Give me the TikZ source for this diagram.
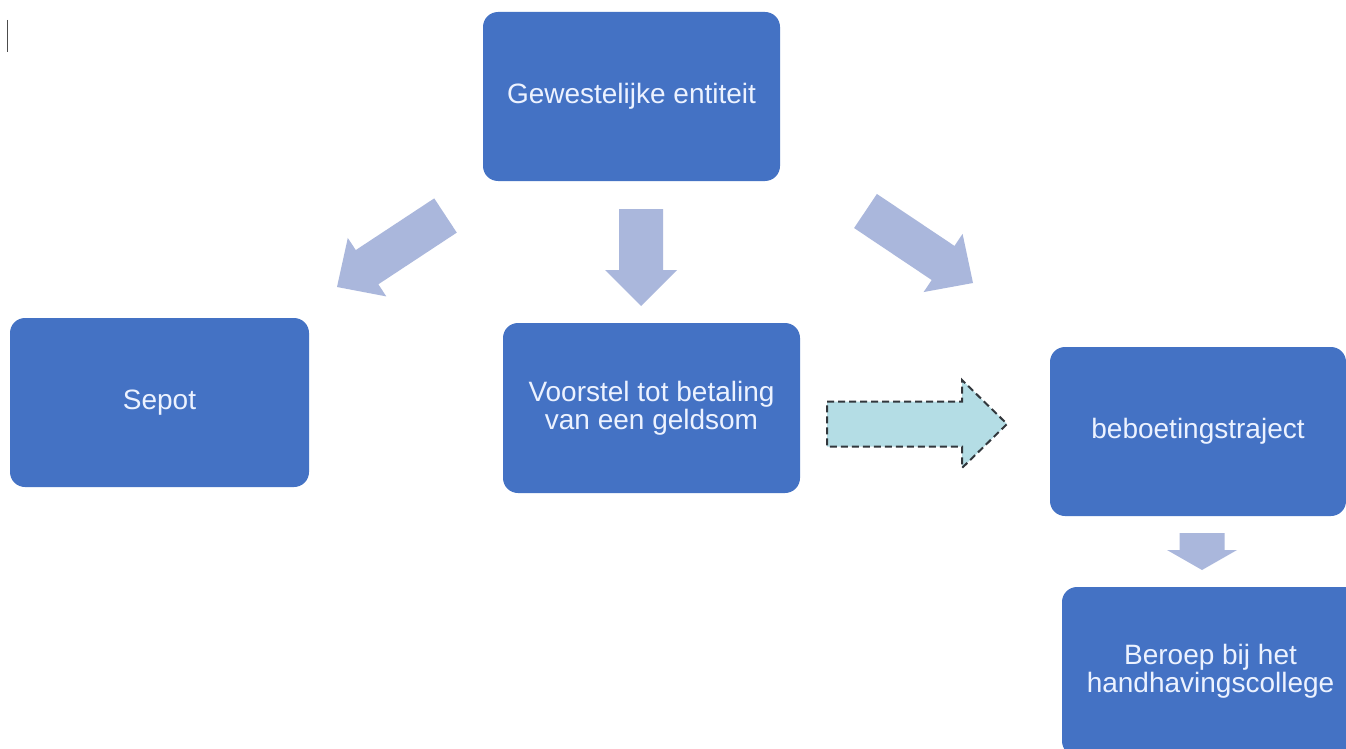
\documentclass[tikz,border=0pt]{standalone}
\usepackage{fontspec}
\setmainfont{Liberation Sans}
\usetikzlibrary{calc}
\definecolor{boxblue}{RGB}{68,114,196}
\definecolor{arrowblue}{RGB}{170,183,220}
\definecolor{dashfill}{RGB}{180,221,229}
\definecolor{txtcol}{RGB}{236,242,255}
\definecolor{dashline}{RGB}{50,55,60}
% #1 style, #2 tail, #3 tip, #4 shaft half width, #5 head half width, #6 head length
\newcommand\blockarrow[6]{%
  \coordinate (ba-h) at ($(#3)!#6!(#2)$);
  \path[#1] ($(#2)!#4!90:(#3)$) -- ($(ba-h)!#4!-90:(#2)$) -- ($(ba-h)!#5!-90:(#2)$)
    -- (#3) -- ($(ba-h)!#5!90:(#2)$) -- ($(ba-h)!#4!90:(#2)$) -- ($(#2)!#4!-90:(#3)$) -- cycle;
}
\tikzset{
  box/.style={fill=boxblue, draw=none, rounded corners=15pt, minimum width=297pt,
    minimum height=169pt, inner sep=0pt, text=txtcol, align=center,
    font=\fontsize{28}{28}\selectfont},
  flowarrow/.style={fill=arrowblue},
  dasharrow/.style={fill=dashfill, draw=dashline, line width=2pt, dash pattern=on 7pt off 4pt}
}
\begin{document}
\begin{tikzpicture}[x=1pt,y=-1pt]
\clip (0,0) rectangle (1346,749);
\fill[white] (0,0) rectangle (1346,749);
\draw[gray!60!black, line width=1.2pt] (7.5,20) -- (7.5,52);

\node[box] (gew) at (631.5,96.5) {Gewestelijke entiteit};
\node[box, minimum width=299pt] (sepot) at (159.5,402.5) {Sepot};
\node[box, minimum height=170pt] (voorstel) at (651.5,408) {Voorstel tot betaling\\van een geldsom};
\node[box, minimum width=296pt] (beboet) at (1198,431.5) {beboetingstraject};
\node[box] (beroep) at (1210.5,671.5) {Beroep bij het\\handhavingscollege};

\coordinate (lt) at (445.5,215.5); \coordinate (lh) at (337,287);
\coordinate (mt) at (641,209);     \coordinate (mh) at (641,306);
\coordinate (rt) at (865.5,211);   \coordinate (rh) at (973,283);
\coordinate (st) at (1202,533);    \coordinate (sh) at (1202,570);
\coordinate (dt) at (827,424);     \coordinate (dh) at (1007,424);

\blockarrow{flowarrow}{lt}{lh}{20.5pt}{35pt}{36pt}
\blockarrow{flowarrow}{mt}{mh}{22pt}{36pt}{36pt}
\blockarrow{flowarrow}{rt}{rh}{20.5pt}{35pt}{36pt}
\blockarrow{flowarrow}{st}{sh}{22.5pt}{35pt}{20pt}
\blockarrow{dasharrow}{dt}{dh}{22.5pt}{44pt}{45pt}
\end{tikzpicture}
\end{document}
